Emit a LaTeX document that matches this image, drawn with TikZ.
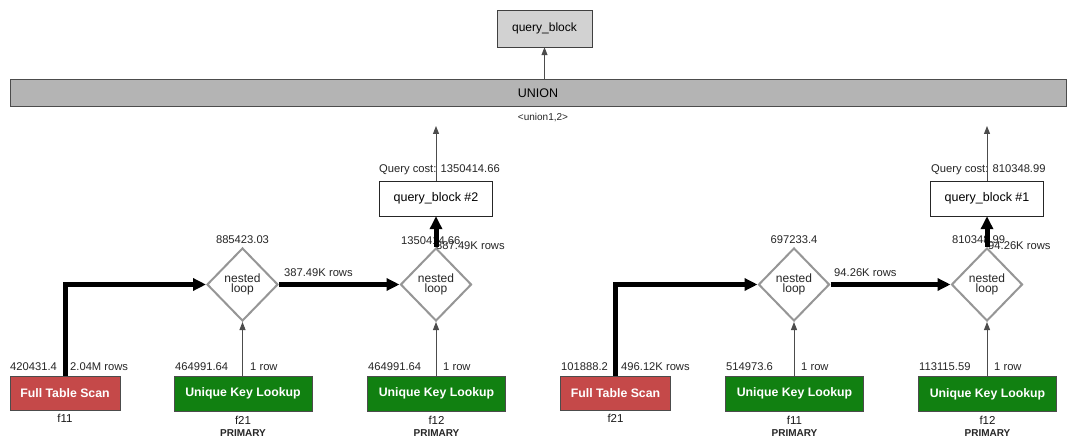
\documentclass[tikz,border=0pt]{standalone}
\usepackage{fontspec}
\setmainfont{Liberation Sans}
\usetikzlibrary{shapes.geometric,arrows.meta}
\definecolor{ftsred}{RGB}{197,73,73}
\definecolor{uklgreen}{RGB}{17,128,17}
\definecolor{qbgray}{RGB}{210,210,210}
\definecolor{uniongray}{RGB}{180,180,180}
\definecolor{diagray}{RGB}{150,150,150}
\newcommand\fsz[1]{\fontsize{#1}{#1}\selectfont}
\begin{document}
\begin{tikzpicture}[x=1pt,y=-1pt,
  qbtop/.style={draw=black!75, fill=qbgray, minimum width=95pt, minimum height=37pt, inner sep=0pt, font=\fsz{12}},
  unionbar/.style={draw=black!70, line width=1pt, fill=uniongray, minimum width=1056pt, minimum height=27pt, inner sep=0pt, font=\fsz{12.5}},
  blockbox/.style={draw=black!85, fill=white, minimum width=113pt, minimum height=35pt, inner sep=0pt, font=\fsz{12.5}},
  nlbox/.style={diamond, draw=diagray, line width=2pt, fill=white, minimum width=71pt, minimum height=73pt, inner sep=0pt, align=center, font=\fsz{12}\linespread{0.85}\selectfont, text=black!85},
  ftsbox/.style={draw=black!70, fill=ftsred, text=white, font=\fsz{12.3}\bfseries, minimum width=110pt, minimum height=34pt, inner sep=0pt},
  uklbox/.style={draw=black!70, fill=uklgreen, text=white, font=\fsz{12.3}\bfseries, minimum width=138pt, minimum height=35pt, inner sep=0pt},
  lbl/.style={font=\fsz{11.2}, inner sep=0pt, text=black!85},
  tbl/.style={font=\fsz{11.5}, inner sep=0pt, text=black!90},
  keyl/.style={font=\fsz{10}\bfseries, inner sep=0pt, text=black!85},
  thinarrow/.style={draw=black!70, line width=1pt, -{Triangle[length=8pt,width=6pt]}},
  thickarrow/.style={draw=black, line width=5pt, line join=miter, -{Triangle[length=13pt,width=12pt]}}
]
\useasboundingbox[fill=white] (0,0) rectangle (1071,441);

% top
\node[qbtop] (qb) at (544.5,28.5) {query\_block};
\node[unionbar] (union) at (538,93.5) {UNION};
\node[lbl, font=\fsz{10}] (ulbl) at (543,118) {<union1,2>};

% query blocks
\node[blockbox] (qb2) at (436,198.5) {query\_block \#2};
\node[blockbox] (qb1) at (987,198.5) {query\_block \#1};
\coordinate (up2) at (436,126);
\coordinate (up1) at (987,126);

% diamonds
\node[nlbox] (nl1) at (242.5,284.5) {nested\\loop};
\node[nlbox] (nl2) at (436,284.5) {nested\\loop};
\node[nlbox] (nl3) at (794,284.5) {nested\\loop};
\node[nlbox] (nl4) at (987,284.5) {nested\\loop};

% leaf boxes
\node[ftsbox] (fts1) at (65,393) {Full Table Scan};
\node[uklbox] (ukl1) at (243,393.5) {Unique Key Lookup};
\node[uklbox] (ukl2) at (436.5,393.5) {Unique Key Lookup};
\node[ftsbox] (fts2) at (615.5,393) {Full Table Scan};
\node[uklbox] (ukl3) at (794.5,393.5) {Unique Key Lookup};
\node[uklbox] (ukl4) at (987.5,394) {Unique Key Lookup};

% table names
\node[tbl] (t1) at (65,418) {f11};
\node[tbl] (t2) at (243,420) {f21};
\node[keyl] (k2) at (243,433.5) {PRIMARY};
\node[tbl] (t3) at (436.5,420) {f12};
\node[keyl] (k3) at (436.5,433.5) {PRIMARY};
\node[tbl] (t4) at (615.5,418) {f21};
\node[tbl] (t5) at (794.5,420) {f11};
\node[keyl] (k5) at (794.5,433.5) {PRIMARY};
\node[tbl] (t6) at (987.5,420) {f12};
\node[keyl] (k6) at (987.5,433.5) {PRIMARY};

% cost labels
\node[lbl, anchor=west] (qc2) at (379,170) {Query cost: 1350414.66};
\node[lbl, anchor=west] (qc1) at (931,170) {Query cost: 810348.99};
\node[lbl, anchor=west] (c2) at (401,240.5) {1350414.66};
\node[lbl, anchor=west] (r2) at (436,245.5) {387.49K rows};
\node[lbl, anchor=west] (c4) at (952,240) {810348.99};
\node[lbl, anchor=west] (r4) at (988,246) {94.26K rows};
\node[lbl] (c1) at (242.5,240) {885423.03};
\node[lbl] (c3) at (794,240) {697233.4};
\node[lbl, anchor=west] (r1) at (284,273) {387.49K rows};
\node[lbl, anchor=west] (r3) at (834,273) {94.26K rows};

\node[lbl, anchor=west] (cf1) at (10,367) {420431.4};
\node[lbl, anchor=west] (rf1) at (70,367) {2.04M rows};
\node[lbl, anchor=west] (cu1) at (175,367) {464991.64};
\node[lbl, anchor=west] (ru1) at (250,367) {1 row};
\node[lbl, anchor=west] (cu2) at (368,367) {464991.64};
\node[lbl, anchor=west] (ru2) at (443,367) {1 row};
\node[lbl, anchor=west] (cf2) at (561,367) {101888.2};
\node[lbl, anchor=west] (rf2) at (621,367) {496.12K rows};
\node[lbl, anchor=west] (cu3) at (726,367) {514973.6};
\node[lbl, anchor=west] (ru3) at (801,367) {1 row};
\node[lbl, anchor=west] (cu4) at (919,367) {113115.59};
\node[lbl, anchor=west] (ru4) at (994,367) {1 row};

% connectors
\draw[thinarrow] (union.north -| qb) -- (qb.south);
\draw[thinarrow] (qb2.north) -- (up2);
\draw[thinarrow] (qb1.north) -- (up1);
\draw[thickarrow] (nl2.north) -- (qb2.south);
\draw[thickarrow] (nl4.north) -- (qb1.south);
\draw[thickarrow] (fts1.north) |- (nl1.west);
\draw[thickarrow] (fts2.north) |- (nl3.west);
\draw[thickarrow] (nl1.east) -- (nl2.west);
\draw[thickarrow] (nl3.east) -- (nl4.west);
\draw[thinarrow] (ukl1.north -| nl1) -- (nl1.south);
\draw[thinarrow] (ukl2.north -| nl2) -- (nl2.south);
\draw[thinarrow] (ukl3.north -| nl3) -- (nl3.south);
\draw[thinarrow] (ukl4.north -| nl4) -- (nl4.south);
\end{tikzpicture}
\end{document}
